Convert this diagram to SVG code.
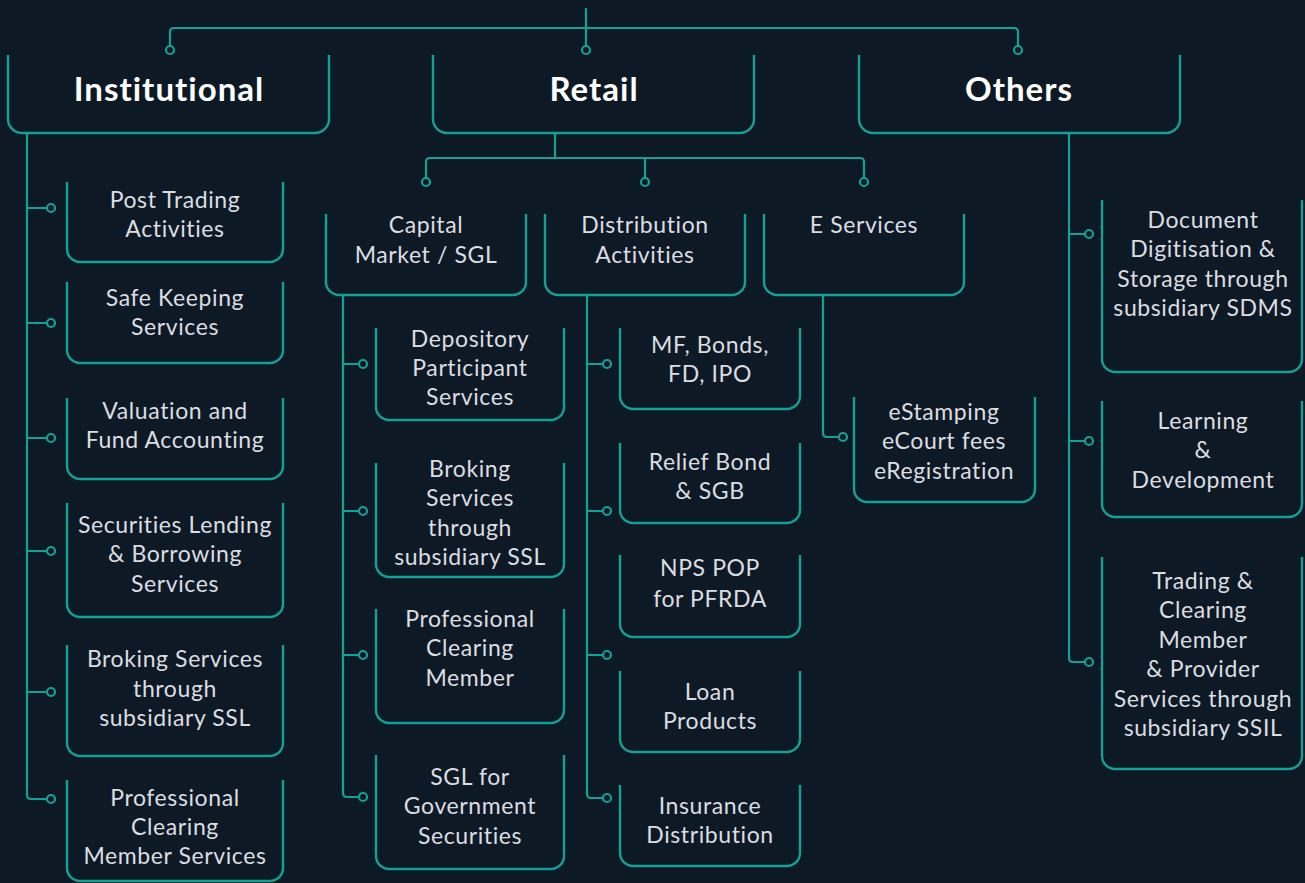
<svg xmlns="http://www.w3.org/2000/svg" width="1305" height="883" viewBox="0 0 1305 883">
<style>
.bg{fill:#0d1a26}
.ln{fill:none;stroke:#14a195;stroke-width:2.2;stroke-linejoin:round}
.dot{fill:#0d1a26;stroke:#14a195;stroke-width:2.2}
.box{fill:none;stroke:#14a195;stroke-width:2.4}
.h{font-family:Lato,"Liberation Sans",sans-serif;font-weight:700;font-size:33px;letter-spacing:1px;fill:#ffffff;text-anchor:middle}
.t{font-family:Lato,"Liberation Sans",sans-serif;font-size:23px;letter-spacing:0.6px;fill:#dcdde0;text-anchor:middle}
</style>
<rect class="bg" x="0" y="0" width="1305" height="883"/>
<g id="connectors">
<path class="ln" d="M586,8 V28 M170,46 V32 Q170,28 174,28 H1014 Q1018,28 1018,32 V46 M586,28 V46"/>
<path class="ln" d="M555,133 V158 M426,178 V162 Q426,158 430,158 H860 Q864,158 864,162 V178 M645,158 V178"/>
<path class="ln" d="M27,133 V795 Q27,799 31,799 H47 M27,208 H47 M27,323 H47 M27,438 H47 M27,551 H47 M27,692 H47"/>
<path class="ln" d="M343,296 V793 Q343,797 347,797 H359 M343,364 H359 M343,511 H359 M343,655 H359"/>
<path class="ln" d="M587,296 V794 Q587,798 591,798 H603 M587,364 H603 M587,511 H603 M587,655 H603"/>
<path class="ln" d="M823,296 V433 Q823,437 827,437 H839"/>
<path class="ln" d="M1069,133 V658 Q1069,662 1073,662 H1085 M1069,234 H1085 M1069,441 H1085"/>
<circle class="dot" cx="170" cy="50" r="4"/>
<circle class="dot" cx="586" cy="50" r="4"/>
<circle class="dot" cx="1018" cy="50" r="4"/>
<circle class="dot" cx="426" cy="182" r="4"/>
<circle class="dot" cx="645" cy="182" r="4"/>
<circle class="dot" cx="864" cy="182" r="4"/>
<circle class="dot" cx="51" cy="208" r="4"/>
<circle class="dot" cx="51" cy="323" r="4"/>
<circle class="dot" cx="51" cy="438" r="4"/>
<circle class="dot" cx="51" cy="551" r="4"/>
<circle class="dot" cx="51" cy="692" r="4"/>
<circle class="dot" cx="51" cy="799" r="4"/>
<circle class="dot" cx="363" cy="364" r="4"/>
<circle class="dot" cx="363" cy="511" r="4"/>
<circle class="dot" cx="363" cy="655" r="4"/>
<circle class="dot" cx="363" cy="797" r="4"/>
<circle class="dot" cx="607" cy="364" r="4"/>
<circle class="dot" cx="607" cy="511" r="4"/>
<circle class="dot" cx="607" cy="655" r="4"/>
<circle class="dot" cx="607" cy="798" r="4"/>
<circle class="dot" cx="843" cy="437" r="4"/>
<circle class="dot" cx="1089" cy="234" r="4"/>
<circle class="dot" cx="1089" cy="441" r="4"/>
<circle class="dot" cx="1089" cy="662" r="4"/>
</g>
<g id="institutional">
<path class="box" d="M8,55 V119 A14,14 0 0 0 22,133 H315 A14,14 0 0 0 329,119 V55"/>
<text class="h" x="169" y="101">Institutional</text>
</g>
<g id="retail">
<path class="box" d="M433,55 V119 A14,14 0 0 0 447,133 H740 A14,14 0 0 0 754,119 V55"/>
<text class="h" x="594" y="101">Retail</text>
</g>
<g id="others">
<path class="box" d="M859,55 V119 A14,14 0 0 0 873,133 H1166 A14,14 0 0 0 1180,119 V55"/>
<text class="h" x="1019" y="101">Others</text>
</g>
<g id="capital">
<path class="box" d="M326,214 V282 A13,13 0 0 0 339,295 H513 A13,13 0 0 0 526,282 V214"/>
<text class="t" x="426" y="233">Capital</text>
<text class="t" x="426" y="263">Market / SGL</text>
</g>
<g id="distribution">
<path class="box" d="M545,214 V282 A13,13 0 0 0 558,295 H732 A13,13 0 0 0 745,282 V214"/>
<text class="t" x="645" y="233">Distribution</text>
<text class="t" x="645" y="263">Activities</text>
</g>
<g id="eservices">
<path class="box" d="M764,214 V282 A13,13 0 0 0 777,295 H951 A13,13 0 0 0 964,282 V214"/>
<text class="t" x="864" y="233">E Services</text>
</g>
<g id="post-trading">
<path class="box" d="M67,182 V249 A13,13 0 0 0 80,262 H270 A13,13 0 0 0 283,249 V182"/>
<text class="t" x="175" y="208">Post Trading</text>
<text class="t" x="175" y="237">Activities</text>
</g>
<g id="safe-keeping">
<path class="box" d="M67,282 V350 A13,13 0 0 0 80,363 H270 A13,13 0 0 0 283,350 V282"/>
<text class="t" x="175" y="306">Safe Keeping</text>
<text class="t" x="175" y="335">Services</text>
</g>
<g id="valuation">
<path class="box" d="M67,398 V466 A13,13 0 0 0 80,479 H270 A13,13 0 0 0 283,466 V398"/>
<text class="t" x="175" y="419">Valuation and</text>
<text class="t" x="175" y="448">Fund Accounting</text>
</g>
<g id="securities-lending">
<path class="box" d="M67,503 V604 A13,13 0 0 0 80,617 H270 A13,13 0 0 0 283,604 V503"/>
<text class="t" x="175" y="533">Securities Lending</text>
<text class="t" x="175" y="562">&amp; Borrowing</text>
<text class="t" x="175" y="592">Services</text>
</g>
<g id="broking-inst">
<path class="box" d="M67,645 V743 A13,13 0 0 0 80,756 H270 A13,13 0 0 0 283,743 V645"/>
<text class="t" x="175" y="667">Broking Services</text>
<text class="t" x="175" y="697">through</text>
<text class="t" x="175" y="726">subsidiary SSL</text>
</g>
<g id="pcm-inst">
<path class="box" d="M67,780 V868 A13,13 0 0 0 80,881 H270 A13,13 0 0 0 283,868 V780"/>
<text class="t" x="175" y="806">Professional</text>
<text class="t" x="175" y="835">Clearing</text>
<text class="t" x="175" y="864">Member Services</text>
</g>
<g id="depository">
<path class="box" d="M376,328 V407 A13,13 0 0 0 389,420 H551 A13,13 0 0 0 564,407 V328"/>
<text class="t" x="470" y="347">Depository</text>
<text class="t" x="470" y="376">Participant</text>
<text class="t" x="470" y="405">Services</text>
</g>
<g id="broking-cap">
<path class="box" d="M376,463 V564 A13,13 0 0 0 389,577 H551 A13,13 0 0 0 564,564 V463"/>
<text class="t" x="470" y="477">Broking</text>
<text class="t" x="470" y="506">Services</text>
<text class="t" x="470" y="536">through</text>
<text class="t" x="470" y="565">subsidiary SSL</text>
</g>
<g id="pcm-cap">
<path class="box" d="M376,609 V710 A13,13 0 0 0 389,723 H551 A13,13 0 0 0 564,710 V609"/>
<text class="t" x="470" y="627">Professional</text>
<text class="t" x="470" y="656">Clearing</text>
<text class="t" x="470" y="686">Member</text>
</g>
<g id="sgl">
<path class="box" d="M376,755 V856 A13,13 0 0 0 389,869 H551 A13,13 0 0 0 564,856 V755"/>
<text class="t" x="470" y="785">SGL for</text>
<text class="t" x="470" y="814">Government</text>
<text class="t" x="470" y="844">Securities</text>
</g>
<g id="mf">
<path class="box" d="M620,328 V396 A13,13 0 0 0 633,409 H787 A13,13 0 0 0 800,396 V328"/>
<text class="t" x="710" y="353">MF, Bonds,</text>
<text class="t" x="710" y="382">FD, IPO</text>
</g>
<g id="relief">
<path class="box" d="M620,443 V510 A13,13 0 0 0 633,523 H787 A13,13 0 0 0 800,510 V443"/>
<text class="t" x="710" y="470">Relief Bond</text>
<text class="t" x="710" y="499">&amp; SGB</text>
</g>
<g id="nps">
<path class="box" d="M620,555 V624 A13,13 0 0 0 633,637 H787 A13,13 0 0 0 800,624 V555"/>
<text class="t" x="710" y="576">NPS POP</text>
<text class="t" x="710" y="607">for PFRDA</text>
</g>
<g id="loan">
<path class="box" d="M620,671 V739 A13,13 0 0 0 633,752 H787 A13,13 0 0 0 800,739 V671"/>
<text class="t" x="710" y="700">Loan</text>
<text class="t" x="710" y="729">Products</text>
</g>
<g id="insurance">
<path class="box" d="M620,785 V853 A13,13 0 0 0 633,866 H787 A13,13 0 0 0 800,853 V785"/>
<text class="t" x="710" y="814">Insurance</text>
<text class="t" x="710" y="843">Distribution</text>
</g>
<g id="estamping">
<path class="box" d="M854,397 V489 A13,13 0 0 0 867,502 H1022 A13,13 0 0 0 1035,489 V397"/>
<text class="t" x="944" y="420">eStamping</text>
<text class="t" x="944" y="449">eCourt fees</text>
<text class="t" x="944" y="479">eRegistration</text>
</g>
<g id="document">
<path class="box" d="M1102,200 V359 A13,13 0 0 0 1115,372 H1289 A13,13 0 0 0 1302,359 V200"/>
<text class="t" x="1203" y="228">Document</text>
<text class="t" x="1203" y="257">Digitisation &amp;</text>
<text class="t" x="1203" y="287">Storage through</text>
<text class="t" x="1203" y="316">subsidiary SDMS</text>
</g>
<g id="learning">
<path class="box" d="M1102,401 V504 A13,13 0 0 0 1115,517 H1289 A13,13 0 0 0 1302,504 V401"/>
<text class="t" x="1203" y="429">Learning</text>
<text class="t" x="1203" y="458">&amp;</text>
<text class="t" x="1203" y="488">Development</text>
</g>
<g id="trading">
<path class="box" d="M1102,557 V756 A13,13 0 0 0 1115,769 H1289 A13,13 0 0 0 1302,756 V557"/>
<text class="t" x="1203" y="589">Trading &amp;</text>
<text class="t" x="1203" y="618">Clearing</text>
<text class="t" x="1203" y="648">Member</text>
<text class="t" x="1203" y="677">&amp; Provider</text>
<text class="t" x="1203" y="707">Services through</text>
<text class="t" x="1203" y="736">subsidiary SSIL</text>
</g>
</svg>
